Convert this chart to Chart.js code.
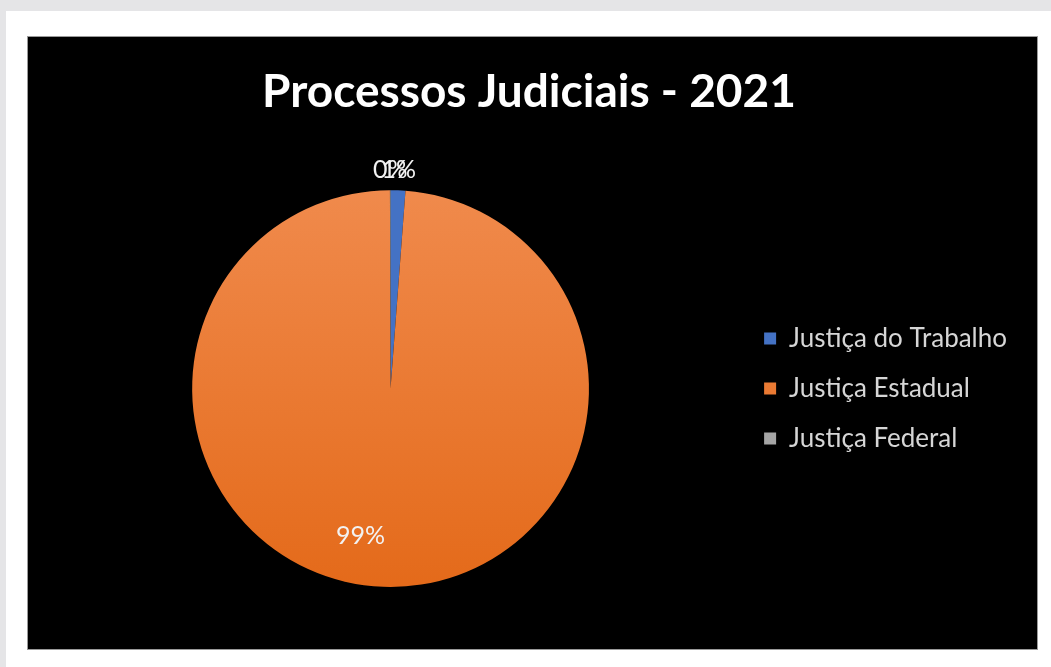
<!DOCTYPE html>
<html lang="pt-BR">
<head>
<meta charset="utf-8">
<title>Processos Judiciais - 2021</title>
<script src="https://cdn.jsdelivr.net/npm/chart.js@4/dist/chart.umd.min.js"></script>
<style>
  html, body { margin: 0; padding: 0; }
  body { width: 1051px; height: 667px; background: #e5e5e7; position: relative; overflow: hidden; }
  #folha { position: absolute; left: 6px; top: 11px; right: 0; bottom: 0; background: #ffffff; }
  #caixa {
    position: absolute; left: 27px; top: 36px; width: 1011px; height: 614px;
    background: #000; border: 1px solid #9a9a9a; box-sizing: border-box;
  }
</style>
</head>
<body>
<div id="folha"></div>
<div id="caixa"><canvas id="myChart"></canvas></div>
<script>
const titulo = 'Processos Judiciais - 2021'
const categorias = ['Justiça do Trabalho', 'Justiça Estadual', 'Justiça Federal']
// percentuais de processos por ramo
const valores = [1.2, 98.75, 0.05]
const cores = ['#4472c4', '#ed7d31', '#a5a5a5']

// fatia laranja com degradê de cima pra baixo
const corFatia = (c) => {
    const area = c.chart.chartArea
    if (!area || c.dataIndex !== 1) return cores[c.dataIndex]
    const g = c.chart.ctx.createLinearGradient(0, area.top, 0, area.bottom)
    g.addColorStop(0, '#f08a4c')
    g.addColorStop(1, '#e46a1a')
    return g
}

// rótulos de porcentagem: fatias pequenas ficam fora do círculo,
// a grande fica dentro, um pouco girada pra esquerda
const rotulos = {
    id: 'rotulos',
    afterDatasetsDraw(chart) {
        const ctx = chart.ctx
        const meta = chart.getDatasetMeta(0)
        const total = valores.reduce((a, b) => a + b, 0)
        ctx.save()
        ctx.font = '25px Lato'
        ctx.fillStyle = '#f2f2f2'
        ctx.textAlign = 'center'
        ctx.textBaseline = 'middle'
        meta.data.forEach((arc, i) => {
            const p = arc.getProps(['x', 'y', 'startAngle', 'endAngle', 'outerRadius'], true)
            let meio = (p.startAngle + p.endAngle) / 2
            const pct = valores[i] / total * 100
            let r = p.outerRadius + 20
            if (pct >= 5) {
                r = p.outerRadius * 0.76
                meio += 0.165
            }
            ctx.fillText(Math.round(pct) + '%', p.x + Math.cos(meio) * r, p.y + Math.sin(meio) * r)
        })
        ctx.restore()
    }
}

const data = {
    labels: categorias,
    datasets: [{
        data: valores,
        backgroundColor: corFatia,
        borderWidth: 0,
    }]
}

const config = {
    type: 'pie',
    data: data,
    options: {
        responsive: true,
        maintainAspectRatio: false,
        animation: false,
        layout: { padding: { left: 13, right: 20, top: 0, bottom: 62 } },
        plugins: {
            title: {
                display: true,
                text: titulo,
                color: '#ffffff',
                font: { family: 'Lato', size: 46, weight: 'bold' },
                padding: { top: 28, bottom: 70 },
            },
            legend: {
                position: 'right',
                fullSize: false,
                labels: {
                    color: '#d6d6d6',
                    font: { family: 'Lato', size: 26 },
                    boxWidth: 12,
                    boxHeight: 12,
                    padding: 24,
                }
            },
            tooltip: { enabled: false }
        }
    },
    plugins: [rotulos]
}

var myChart = new Chart(document.getElementById('myChart'), config)
</script>
</body>
</html>
